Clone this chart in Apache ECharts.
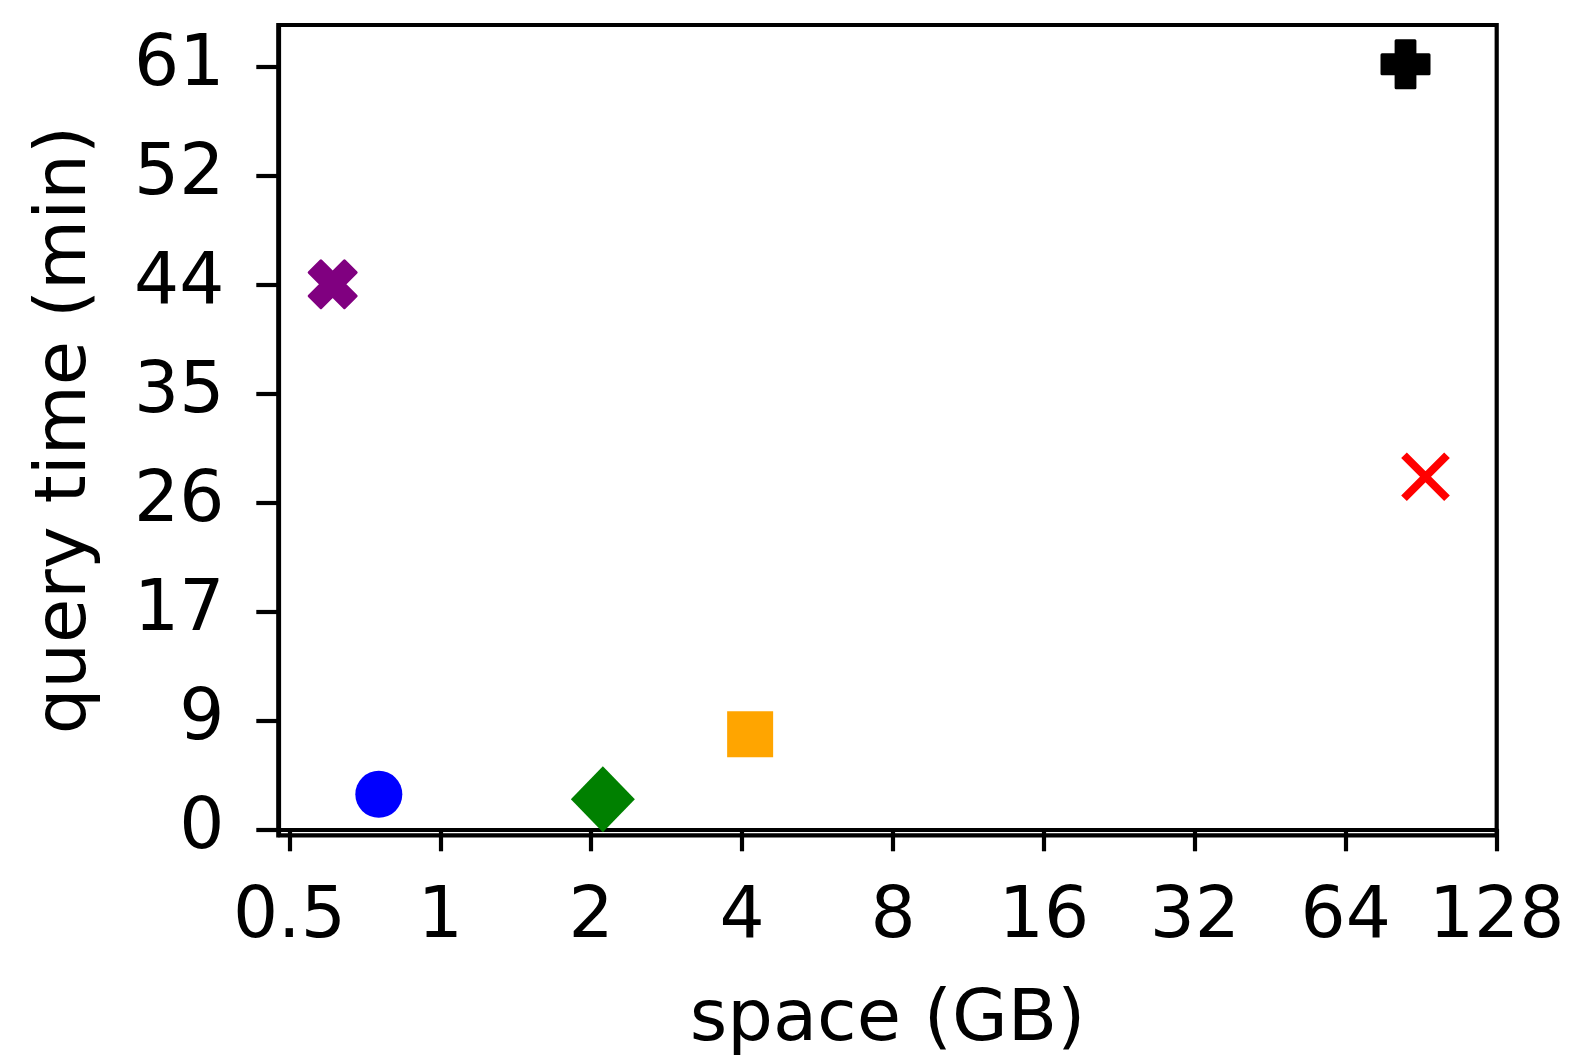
<!DOCTYPE html>
<html>
<head>
<meta charset="utf-8">
<script src="https://cdn.jsdelivr.net/npm/echarts@6/dist/echarts.min.js"></script>
<style>
html,body{margin:0;padding:0;background:#fff;}
#chart{width:1577px;height:1057px;}
</style>
</head>
<body>
<div id="chart"></div>
<script>
// ---- data ----
const methodNames = ['purpleX', 'blueCircle', 'greenDiamond', 'orangeSquare', 'blackPlus', 'redX'];
const spaceGB    = [0.61, 0.754, 2.11, 4.15, 84.2, 92.3];
const queryMin   = [43.6, 2.8, 2.4, 7.6, 61.2, 28.2];
const markerColors = ['#800080', '#0000ff', '#008000', '#ffa500', '#000000', '#ff0000'];
const xTickValues = [0.5, 1, 2, 4, 8, 16, 32, 64, 128];
const xTickLabels = ['0.5', '1', '2', '4', '8', '16', '32', '64', '128'];
const yTickValues = [0, 61/7, 122/7, 183/7, 244/7, 305/7, 366/7, 61];
const yTickLabels = ['0', '9', '17', '26', '35', '44', '52', '61'];

const FONT = 'DejaVu Sans';
const LW = 4.2;
const symbols = [
  'path://M1,0L2,1L3,0L4,1L3,2L4,3L3,4L2,3L1,4L0,3L1,2L0,1Z',
  'circle',
  'diamond',
  'rect',
  'path://M0,3L0,7L3,7L3,10L7,10L7,7L10,7L10,3L7,3L7,0L3,0L3,3Z',
  'path://M0,0L10,10M10,0L0,10'
];
const sizes = [47, 47, [64, 66], 46, 47, 43];

const series = methodNames.map((name, i) => {
  const s = {
    name: name,
    type: 'scatter',
    data: [[spaceGB[i], queryMin[i]]],
    symbol: symbols[i],
    symbolSize: sizes[i],
    itemStyle: { color: markerColors[i], opacity: 1 },
    emphasis: { disabled: true },
    z: 5
  };
  if (i === 0 || i === 4) {
    s.itemStyle.borderColor = markerColors[i];
    s.itemStyle.borderWidth = 3;
    s.itemStyle.borderJoin = 'round';
  }
  if (i === 5) {
    s.itemStyle = { color: 'rgba(0,0,0,0)', borderColor: markerColors[i], borderWidth: 8, borderCap: 'butt', opacity: 1 };
  }
  return s;
});

const chart = echarts.init(document.getElementById('chart'), null, { renderer: 'canvas' });
chart.setOption({
  animation: false,
  backgroundColor: '#ffffff',
  grid: {
    left: 278.3, right: 80.3, top: 25, bottom: 221.7,
    show: true, borderColor: '#000', borderWidth: LW, backgroundColor: '#fff',
    containLabel: false,
    outerBoundsMode: 'none'
  },
  xAxis: {
    type: 'log',
    logBase: 2,
    min: 0.4752,
    max: 128,
    name: 'space (GB)',
    nameLocation: 'middle',
    nameGap: 150,
    nameTextStyle: { fontFamily: FONT, fontSize: 72, color: '#000' },
    axisLine: { show: true, lineStyle: { color: '#000', width: LW } },
    axisTick: { show: true, length: 22, lineStyle: { color: '#000', width: LW }, customValues: xTickValues },
    axisLabel: {
      show: true, fontFamily: FONT, fontSize: 71, color: '#000', margin: 48,
      customValues: xTickValues,
      formatter: v => { const k = xTickValues.findIndex(t => Math.abs(t - v) < 1e-6); return k >= 0 ? xTickLabels[k] : ''; }
    },
    splitLine: { show: false },
    minorTick: { show: false }
  },
  yAxis: {
    type: 'value',
    min: -0.48,
    max: 64.34,
    name: 'query time (min)',
    nameLocation: 'middle',
    nameGap: 176,
    nameTextStyle: { fontFamily: FONT, fontSize: 72, color: '#000' },
    axisLine: { show: true, lineStyle: { color: '#000', width: LW } },
    axisTick: { show: true, length: 22, lineStyle: { color: '#000', width: LW }, customValues: yTickValues },
    axisLabel: {
      show: true, fontFamily: FONT, fontSize: 71, color: '#000', margin: 54,
      customValues: yTickValues,
      formatter: v => { const k = yTickValues.findIndex(t => Math.abs(t - v) < 1e-6); return k >= 0 ? yTickLabels[k] : ''; }
    },
    splitLine: { show: false }
  },
  series: series
});
</script>
</body>
</html>
